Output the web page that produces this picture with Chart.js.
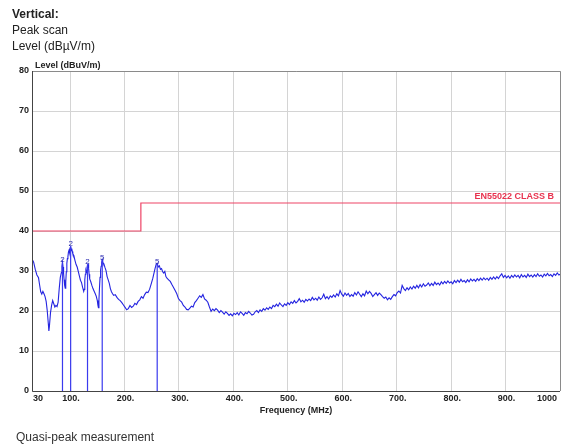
<!DOCTYPE html>
<html>
<head>
<meta charset="utf-8">
<script src="https://cdn.jsdelivr.net/npm/chart.js@4.4.1/dist/chart.umd.min.js"></script>
<style>
  html, body { margin: 0; padding: 0; background: #fff; }
  body { width: 571px; height: 448px; position: relative; overflow: hidden;
         font-family: "Liberation Sans", Arial, sans-serif; color: #222; }
  #chart { position: absolute; left: 0; top: 0; }
  .hdr { position: absolute; left: 12px; font-size: 12px; line-height: 14px; }
  .foot { position: absolute; left: 16px; top: 430px; font-size: 12px; color: #333; }
</style>
</head>
<body>
<canvas id="chart" width="571" height="448"></canvas>
<div class="hdr" style="top:7px;font-weight:bold;">Vertical:</div>
<div class="hdr" style="top:23px;">Peak scan</div>
<div class="hdr" style="top:39px;">Level (dBµV/m)</div>
<div class="foot">Quasi-peak measurement</div>
<script>
// Peak scan sweep: frequency (MHz) and measured level (dBµV/m)
const freqMHz = [
  30,33,36,39,42,44,46,48,50,52,
  54,56,58,60,61,62,64,66,68,70,
  72,74,76,78,80,82,84,85,86,87,
  88,89,90,91,92,93,94,95,96,97,
  98,99,100,101,102,103,104,105,107,109,
  111,113,115,117,119,121,123,125,126,127,
  128,129,130,131,132,133,134,135,136,138,
  140,142,144,146,148,150,151,152,153,154,
  155,156,157,158,159,160,162,164,166,168,
  170,172,174,176,178,180,183,186,189,192,
  195,198,201,204,207,210,213,216,219,222,
  225,228,231,234,237,240,243,246,249,252,
  254,256,258,260,262,264,266,268,270,272,
  274,276,278,281,284,287,290,293,296,299,
  302,305,308,311,314,317,320,323,326,329,
  332,335,338,341,344,347,350,353,356,359,
  362,365,368,371,374,377,380,383,386,389,
  392,395,398,401,404,407,410,413,416,419,
  422,425,428,431,434,437,440,443,446,449,
  452,455,458,461,464,467,470,473,476,479,
  482,485,488,491,494,497,500,503,506,509,
  512,515,518,521,524,527,530,533,536,539,
  542,545,548,551,554,557,560,563,566,569,
  572,575,578,581,584,587,590,593,596,599,
  602,605,608,611,614,617,620,623,626,629,
  632,635,638,641,644,647,650,653,656,659,
  662,665,668,671,674,677,680,683,686,689,
  692,695,698,701,704,707,710,713,716,719,
  722,725,728,731,734,737,740,743,746,749,
  752,755,758,761,764,767,770,773,776,779,
  782,785,788,791,794,797,800,803,806,809,
  812,815,818,821,824,827,830,833,836,839,
  842,845,848,851,854,857,860,863,866,869,
  872,875,878,881,884,887,890,893,896,899,
  902,905,908,911,914,917,920,923,926,929,
  932,935,938,941,944,947,950,953,956,959,
  962,965,968,971,974,977,980,983,986,989,
  992,995,998,1000
];
const levelDb = [
  33.0,32.2,30.4,29.0,28.3,26.5,24.8,24.2,24.9,24.3,
  23.6,22.4,20.1,16.8,15.0,16.2,19.6,21.4,22.6,21.8,
  21.0,21.4,21.1,22.2,25.6,28.4,29.6,31.2,32.2,31.0,
  29.4,27.8,26.4,25.7,27.2,29.8,31.9,33.1,33.6,34.8,
  35.2,34.6,35.8,36.2,35.1,35.6,34.9,34.3,33.8,32.6,
  31.6,31.0,29.9,28.8,27.7,27.1,25.9,24.9,25.4,27.8,
  29.2,30.1,29.6,30.8,31.4,31.7,30.6,29.2,28.0,27.3,
  26.4,25.6,25.0,24.4,23.7,22.6,21.5,20.8,22.9,25.8,
  28.4,30.2,31.2,32.1,32.8,32.2,31.8,30.9,30.1,28.6,
  27.8,26.9,25.6,24.8,24.3,23.9,24.1,23.4,22.9,22.6,
  22.1,21.5,20.9,20.3,20.6,21.4,20.9,21.2,21.9,21.6,
  22.4,22.8,23.6,23.2,24.1,24.7,24.6,25.4,26.8,28.2,
  29.4,30.6,31.6,31.9,31.0,31.3,30.4,30.6,29.8,29.5,
  29.9,28.6,28.2,27.8,27.4,26.6,25.9,25.1,24.3,23.1,
  22.6,22.2,21.4,21.0,20.4,20.3,20.7,21.2,21.0,22.1,
  22.6,23.2,23.8,23.4,24.1,23.0,22.7,22.2,21.0,19.9,
  20.5,20.1,20.6,20.2,19.6,20.1,19.7,19.2,19.8,19.4,
  18.9,19.3,18.8,19.4,19.1,19.6,19.0,19.8,19.4,18.9,
  19.6,19.3,19.9,19.5,19.0,19.2,19.8,20.1,19.6,20.3,
  19.9,20.6,20.2,20.8,20.4,21.0,20.6,21.4,21.1,21.7,
  21.2,22.0,21.5,21.1,21.8,21.4,22.1,21.6,22.3,21.9,
  22.6,22.0,22.4,23.1,22.3,22.7,22.2,22.9,22.5,23.0,
  22.6,23.4,22.8,23.2,22.7,23.5,22.9,23.3,24.2,23.1,
  23.6,23.0,23.8,23.4,24.0,23.5,24.3,23.8,25.1,24.2,
  23.7,24.5,23.9,24.4,23.6,24.1,23.7,24.6,24.0,24.8,
  24.2,23.6,24.3,23.8,25.0,24.3,24.9,24.4,23.6,24.1,
  24.6,23.9,24.5,24.1,23.6,23.2,23.5,22.8,23.3,22.9,
  23.6,24.1,23.8,24.6,25.0,24.5,26.4,25.6,25.1,25.8,
  25.3,26.0,25.5,26.2,25.7,26.4,25.8,26.6,26.0,26.8,
  26.2,26.5,27.0,26.3,26.9,26.4,27.2,26.6,27.0,26.5,
  27.3,26.8,27.4,26.9,27.5,27.0,27.3,26.8,27.6,27.1,
  27.7,27.2,27.9,27.3,27.6,27.1,27.8,27.3,28.0,27.5,
  27.9,27.4,28.1,27.6,28.2,27.7,28.3,27.8,28.2,27.7,
  28.4,27.9,28.5,28.0,28.6,28.1,28.8,29.3,28.4,28.9,
  28.3,28.8,28.2,28.9,28.4,29.0,28.5,28.9,28.3,29.1,
  28.5,28.9,28.4,29.2,28.6,29.0,28.5,29.1,28.6,29.3,
  28.7,29.0,28.5,29.2,28.8,29.4,28.8,29.1,28.6,29.3,
  28.9,29.5,29.0,29.2
];

// EN55022 class B limit (stepped)
const limitFreq = [30, 230, 230, 1000];
const limitLevel = [40, 40, 47, 47];
const limitName = 'EN55022 CLASS B';

// Quasi-peak markers
const markerFreq = [86, 101, 132, 159, 260];
const markerLevel = [32.2, 36.2, 31.7, 32.8, 31.9];
const markerLabel = ['2', '2', '2', '5', '5'];

// Axis ticks
const xTicks = [30, 100, 200, 300, 400, 500, 600, 700, 800, 900, 1000];
const xTickLabels = ['30', '100.', '200.', '300.', '400.', '500.', '600.', '700.', '800.', '900.', '1000'];
const yTicks = [0, 10, 20, 30, 40, 50, 60, 70, 80];

const traceData = freqMHz.map((f, i) => ({ x: f, y: levelDb[i] }));
const limitData = limitFreq.map((f, i) => ({ x: f, y: limitLevel[i] }));
const markerData = [];
markerFreq.forEach((f, i) => {
  markerData.push({ x: f, y: 0 }, { x: f, y: markerLevel[i] }, { x: f, y: null });
});

const FONT = '"Liberation Sans", Arial, sans-serif';
const tickFont = { family: FONT, size: 9, weight: 'bold' };

const overlay = {
  id: 'overlay',
  afterDraw(chart) {
    const { ctx, chartArea: a, scales: { x, y } } = chart;
    ctx.save();
    // frame
    ctx.lineWidth = 1;
    ctx.strokeStyle = '#8a8a8a';
    ctx.beginPath();
    ctx.moveTo(a.left, a.top + 0.5); ctx.lineTo(a.right + 0.5, a.top + 0.5);
    ctx.lineTo(a.right + 0.5, a.bottom);
    ctx.stroke();
    ctx.strokeStyle = '#444';
    ctx.beginPath();
    ctx.moveTo(a.left + 0.5, a.top); ctx.lineTo(a.left + 0.5, a.bottom + 0.5);
    ctx.lineTo(a.right, a.bottom + 0.5);
    ctx.stroke();
    // x tick labels: end labels sit inside the axis span
    ctx.fillStyle = '#222';
    ctx.font = 'bold 9px ' + FONT;
    ctx.textBaseline = 'middle';
    xTicks.forEach((v, i) => {
      const px = x.getPixelForValue(v);
      if (i === 0) { ctx.textAlign = 'left'; ctx.fillText(xTickLabels[i], px + 1, a.bottom + 8); }
      else if (i === xTicks.length - 1) { ctx.textAlign = 'right'; ctx.fillText(xTickLabels[i], px - 3, a.bottom + 8); }
      else { ctx.textAlign = 'center'; ctx.fillText(xTickLabels[i], px + 1, a.bottom + 8); }
    });
    // y-axis title
    ctx.textBaseline = 'bottom';
    ctx.textAlign = 'left';
    ctx.fillText('Level (dBuV/m)', a.left + 3, a.top - 1);
    // limit label
    ctx.fillStyle = '#e8334f';
    ctx.textAlign = 'right';
    ctx.fillText(limitName, a.right - 6, y.getPixelForValue(limitLevel[3]) - 2);
    // marker numbers
    ctx.fillStyle = '#2a2ab0';
    ctx.font = '8px ' + FONT;
    ctx.textAlign = 'center';
    markerFreq.forEach((f, i) => {
      ctx.fillText(markerLabel[i], x.getPixelForValue(f), y.getPixelForValue(markerLevel[i]) + 2);
    });
    ctx.restore();
  }
};

new Chart(document.getElementById('chart'), {
  type: 'line',
  data: {
    datasets: [
      { data: limitData, borderColor: '#ee4466', borderWidth: 1.2, pointRadius: 0, tension: 0 },
      { data: markerData, borderColor: '#3a3aee', borderWidth: 1.2, pointRadius: 0, spanGaps: false },
      { data: traceData, borderColor: '#2424e0', borderWidth: 1.1, pointRadius: 0, tension: 0 }
    ]
  },
  options: {
    responsive: false,
    animation: false,
    devicePixelRatio: 1,
    layout: { padding: { left: 0, top: 71, right: 11, bottom: 32 } },
    plugins: { legend: { display: false }, tooltip: { enabled: false } },
    scales: {
      x: {
        type: 'linear', min: 30, max: 1000,
        afterBuildTicks: ax => { ax.ticks = xTicks.map(v => ({ value: v })); },
        afterFit: ax => { ax.height = 25; },
        ticks: { display: false },
        grid: { color: '#d4d4d4', drawTicks: false },
        border: { display: false },
        title: { display: true, text: 'Frequency (MHz)', color: '#222', font: tickFont, padding: { top: 1, bottom: 0 } }
      },
      y: {
        type: 'linear', min: 0, max: 80,
        afterBuildTicks: ax => { ax.ticks = yTicks.map(v => ({ value: v })); },
        afterFit: ax => { ax.width = 32; },
        ticks: { padding: 3, color: '#222', font: tickFont },
        grid: { color: '#d4d4d4', drawTicks: false },
        border: { display: false }
      }
    }
  },
  plugins: [overlay]
});
</script>
</body>
</html>
